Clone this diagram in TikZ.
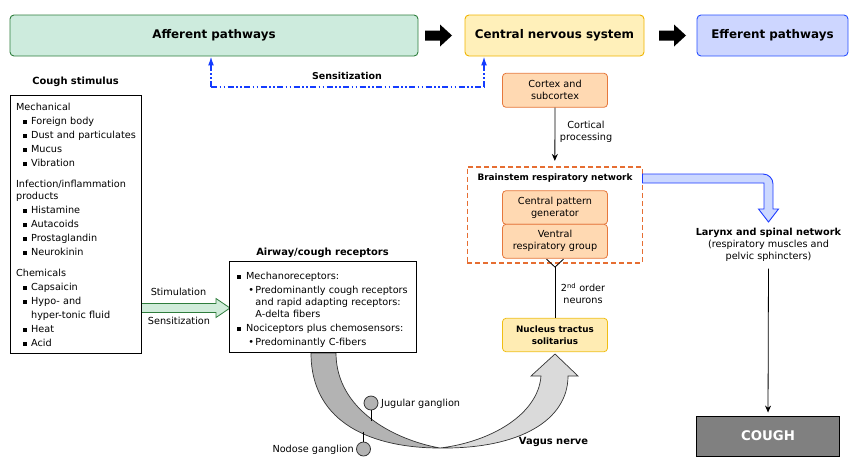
\documentclass[tikz,border=0pt]{standalone}
\usepackage{fontspec}
\setmainfont{DejaVu Sans}
\usetikzlibrary{arrows.meta,calc}
\definecolor{afFill}{RGB}{205,235,221}
\definecolor{afDraw}{RGB}{46,125,60}
\definecolor{cnsFill}{RGB}{255,240,186}
\definecolor{cnsDraw}{RGB}{240,180,0}
\definecolor{effFill}{RGB}{205,214,255}
\definecolor{effDraw}{RGB}{40,80,255}
\definecolor{peachFill}{RGB}{255,217,178}
\definecolor{peachDraw}{RGB}{230,120,60}
\definecolor{ntsFill}{RGB}{255,236,179}
\definecolor{ntsDraw}{RGB}{240,190,20}
\definecolor{dashOr}{RGB}{230,110,50}
\definecolor{bArrF}{RGB}{204,216,255}
\definecolor{bArrD}{RGB}{30,60,255}
\definecolor{sensBlue}{RGB}{20,60,255}
\definecolor{gArrF}{RGB}{208,236,218}
\definecolor{gArrD}{RGB}{46,125,60}
\definecolor{vDark}{RGB}{179,179,179}
\definecolor{vLight}{RGB}{218,218,218}
\definecolor{vOut}{RGB}{51,51,51}
\definecolor{coughGray}{RGB}{128,128,128}
\newcommand\sqbul{\rule[0.7pt]{3.8pt}{3.8pt}}
\newcommand\lvA{\hspace*{7pt}\makebox[8pt][l]{\sqbul}}
\newcommand\lvAw{\hspace*{15pt}}
\newcommand\lvB{\makebox[8.7pt][l]{\sqbul}}
\newcommand\lvC{\hspace*{11pt}\makebox[7pt][l]{\textbullet}}
\newcommand\lvCw{\hspace*{18pt}}
\begin{document}
\begin{tikzpicture}[x=1pt,y=-1pt,
  topbox/.style={line width=0.9pt, rounded corners=4pt, minimum height=41pt, font=\fontsize{11.9}{14}\selectfont\bfseries, inner sep=0pt},
  peach/.style={draw=peachDraw, fill=peachFill, line width=0.8pt, rounded corners=3.5pt, minimum width=105pt, align=center, font=\fontsize{9.7}{12}\selectfont, inner sep=0pt},
  txt/.style={font=\fontsize{9.7}{12}\selectfont, align=center, inner sep=0pt},
  btxt/.style={font=\fontsize{9.9}{12}\selectfont\bfseries, align=center, inner sep=0pt},
  listbox/.style={draw, line width=0.8pt, align=left, anchor=north west},
  conn/.style={line width=0.8pt, -{Stealth[length=7pt,width=6pt]}},
  sens/.style={draw=sensBlue, line width=1.5pt, dash pattern=on 6pt off 2.5pt on 1.5pt off 2.5pt on 1.5pt off 2.5pt},
  gang/.style={circle, draw=vOut, fill=vDark, line width=0.8pt, minimum size=14pt, inner sep=0pt}
]
\useasboundingbox (0,0) rectangle (850,472);

% top row
\node[topbox, draw=afDraw, fill=afFill, minimum width=408pt] (aff) at (214,35.5) {Afferent pathways};
\node[topbox, draw=cnsDraw, fill=cnsFill, minimum width=179pt] (cns) at (554.5,35.5) {Central nervous system};
\node[topbox, draw=effDraw, fill=effFill, minimum width=151pt] (eff) at (772.5,35.5) {Efferent pathways};
\fill (425,30.5) -- (440,30.5) -- (440,24.5) -- (452,35.5) -- (440,46.5) -- (440,40.5) -- (425,40.5) -- cycle;
\fill (659,30.5) -- (674,30.5) -- (674,24.5) -- (686,35.5) -- (674,46.5) -- (674,40.5) -- (659,40.5) -- cycle;

% sensitization feedback
\coordinate (sL) at (211,87);
\coordinate (sR) at (484,87);
\draw[sens] (sL) -- (sR);
\draw[sens, -{Latex[length=9pt,width=6pt]}] (sL) -- (sL |- aff.south);
\draw[sens, -{Latex[length=9pt,width=6pt]}] (sR) -- (sR |- cns.south);
\node[btxt, font=\fontsize{9.5}{12}\selectfont\bfseries] (senslbl) at (347,75.5) {Sensitization};

% vagus nerve
\filldraw[draw=vOut, fill=vLight, line width=0.7pt] (440,448) .. controls (490,442) and (538,415) .. (541,376) -- (531,376) -- (555,354) -- (578,376) -- (568,376) .. controls (568,420) and (520,449) .. (440,448) -- cycle;
\filldraw[draw=vOut, fill=vDark, line width=0.7pt] (311,353) .. controls (311,425) and (375,448) .. (440,448) .. controls (395,440) and (336,410) .. (336,353) -- cycle;

% cough stimulus
\node[btxt] (stimt) at (75.5,82.3) {Cough stimulus};
\filldraw[draw=gArrD, fill=gArrF, line width=0.8pt] (141,303.5) -- (216,303.5) -- (216,298.5) -- (230,308) -- (216,317.5) -- (216,312.5) -- (141,312.5) -- cycle;
\node[listbox, fill=white, minimum height=257pt, text width=119.6pt, inner xsep=5.7pt, font=\fontsize{9.7}{14}\selectfont] (stim) at (10,95) {%
\begin{tabular}{@{}l@{}}
\rule{0pt}{12pt}Mechanical\\
\lvA Foreign body\\
\lvA Dust and particulates\\
\lvA Mucus\\
\lvA Vibration\\[7pt]
Infection/inflammation\\[-2pt]
products\\
\lvA Histamine\\
\lvA Autacoids\\
\lvA Prostaglandin\\
\lvA Neurokinin\\[6.6pt]
Chemicals\\
\lvA Capsaicin\\
\lvA Hypo- and\\
\lvAw hyper-tonic fluid\\
\lvA Heat\\
\lvA Acid
\end{tabular}};
\node[txt] (stiml) at (178.5,292.3) {Stimulation};
\node[txt] (sensl) at (179,320.5) {Sensitization};

% airway receptors
\node[btxt] (airt) at (322.5,252.5) {Airway/cough receptors};
\node[listbox, fill=white, minimum height=91pt, text width=170.7pt, inner xsep=8pt, font=\fontsize{9.7}{12}\selectfont] (air) at (229,261) {%
\begin{tabular}{@{}l@{}}
\rule{0pt}{14.4pt}\lvB Mechanoreceptors:\\[2pt]
\lvC Predominantly cough receptors\\
\lvCw and rapid adapting receptors:\\
\lvCw A-delta fibers\\[2pt]
\lvB Nociceptors plus chemosensors:\\[2pt]
\lvC Predominantly C-fibers
\end{tabular}};

% ganglia
\node[gang] (jug) at (371,403) {};
\coordinate (jugp) at (371,420.5);
\draw[line width=0.8pt] (jug) -- (jugp);
\node[gang] (nod) at (363.5,449) {};
\coordinate (nodp) at (363.5,431.5);
\draw[line width=0.8pt] (nodp) -- (nod);
\node[txt, anchor=west] (jugl) at (381,403.5) {Jugular ganglion};
\node[txt, anchor=east] (nodl) at (354,449.5) {Nodose ganglion};
\node[btxt] (vagl) at (553.5,442) {Vagus nerve};

% CNS column
\node[peach, minimum height=34pt] (cortex) at (555,90.3) {Cortex and\\subcortex};
\node[draw=dashOr, dash pattern=on 5pt off 3pt, line width=1.6pt, minimum width=175pt, minimum height=96pt] (bsn) at (554.8,214.7) {};
\node[btxt, font=\fontsize{8.9}{11}\selectfont\bfseries] (bsnl) at (555,178) {Brainstem respiratory network};
\node[peach, minimum height=33.6pt] (cpg) at (555,207.5) {Central pattern\\generator};
\node[peach, minimum height=34pt] (vrg) at (555,241.3) {Ventral\\respiratory group};
\draw[conn, shorten >=5pt] (cortex.south) -- (bsn.north);
\node[txt] (cortl) at (586,131.5) {Cortical\\processing};
\node[peach, draw=ntsDraw, fill=ntsFill, minimum height=33.4pt, font=\fontsize{8.8}{11.5}\selectfont\bfseries] (nts) at (555,335) {Nucleus tractus\\solitarius};
\draw[line width=0.8pt, -{Straight Barb[reversed, length=8pt, width=17pt]}] (nts.north) -- (vrg.south);
\node[txt] (ordl) at (583,293.5) {2\textsuperscript{nd} order\\neurons};

% efferent side
\filldraw[draw=bArrD, fill=bArrF, line width=0.9pt] (642.5,174) -- (763,174) arc[start angle=-90, end angle=0, radius=10] -- (773,209) -- (778.5,209) -- (768.5,222) -- (758.5,209) -- (764,209) -- (764,183) -- (642.5,183) -- cycle;
\node[txt] (lar) at (768.5,244.8) {\textbf{Larynx and spinal network}\\(respiratory muscles and\\pelvic sphincters)};
\node[draw, fill=coughGray, line width=0.9pt, minimum width=142.6pt, minimum height=40pt, text=white, font=\fontsize{13.3}{15}\selectfont\bfseries] (cough) at (768,436) {COUGH};
\draw[conn, shorten <=7pt, shorten >=3pt] (lar.south) -- (cough.north);
\end{tikzpicture}
\end{document}
